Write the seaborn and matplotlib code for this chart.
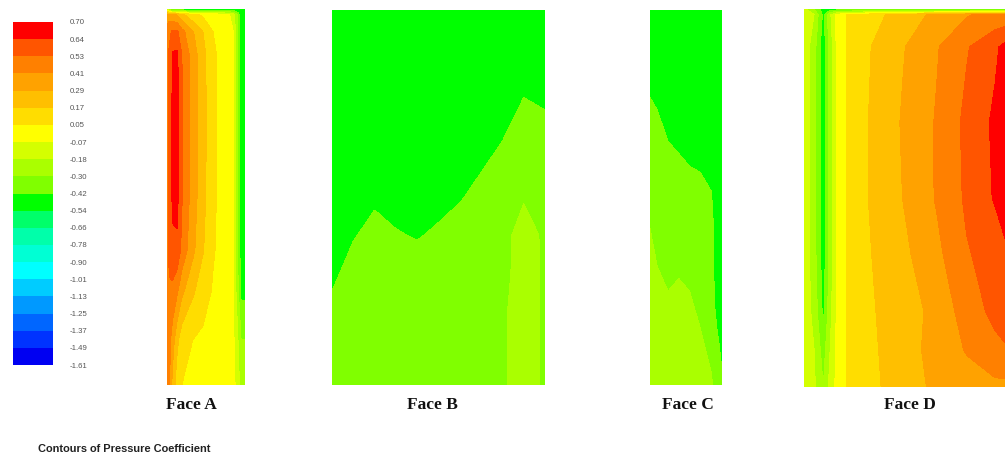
import numpy as np
import matplotlib
matplotlib.use("Agg")
import matplotlib.pyplot as plt
from matplotlib.colors import ListedColormap, BoundaryNorm, hsv_to_rgb
import seaborn as sns

# ---- contour levels of the pressure coefficient (20 bands) ----
levels = [-1.61, -1.49, -1.37, -1.25, -1.13, -1.01, -0.90, -0.78, -0.66, -0.54,
          -0.42, -0.30, -0.18, -0.07, 0.05, 0.17, 0.29, 0.41, 0.53, 0.64, 0.70]

# band hues, lowest band first (blue -> cyan -> green -> yellow -> red)
band_hues = [240, 228, 216, 204, 192, 180, 170, 160, 145, 120,
             90, 80, 70, 60, 52, 45, 38, 30, 20, 0]

# ---- sampled Cp on each face (rows: top -> bottom, cols: left -> right) ----
face_a_cols = [0, .03, .07, .13, .19, .33, .46, .59, .72, .85, .91, .95, 1.0]
face_a_rows = [0, .015, .06, .12, .30, .50, .64, .75, .88, 1.0]
face_a_cp = [
    [-0.20, -0.40, -0.55, -0.55, -0.55, -0.55, -0.55, -0.55, -0.55, -0.55, -0.55, -0.50, -0.45],
    [0.35, 0.35, 0.32, 0.28, 0.20, 0.08, 0.03, 0.00, -0.02, -0.10, -0.35, -0.50, -0.50],
    [0.45, 0.50, 0.55, 0.55, 0.45, 0.30, 0.17, 0.05, 0.00, -0.07, -0.35, -0.50, -0.50],
    [0.50, 0.55, 0.65, 0.66, 0.53, 0.35, 0.21, 0.07, 0.01, -0.06, -0.35, -0.50, -0.50],
    [0.50, 0.55, 0.66, 0.68, 0.55, 0.36, 0.22, 0.07, 0.01, -0.06, -0.35, -0.50, -0.50],
    [0.50, 0.55, 0.66, 0.67, 0.54, 0.35, 0.21, 0.07, 0.01, -0.06, -0.35, -0.50, -0.50],
    [0.50, 0.55, 0.62, 0.62, 0.50, 0.32, 0.18, 0.06, 0.01, -0.06, -0.33, -0.48, -0.48],
    [0.50, 0.52, 0.50, 0.43, 0.32, 0.19, 0.10, 0.04, 0.01, -0.05, -0.28, -0.45, -0.45],
    [0.48, 0.45, 0.35, 0.20, 0.10, 0.05, 0.03, 0.02, 0.01, -0.05, -0.18, -0.30, -0.30],
    [0.45, 0.42, 0.25, 0.10, 0.05, 0.03, 0.02, 0.02, 0.01, -0.04, -0.12, -0.25, -0.25],
]

face_b_cols = [0, .1, .2, .3, .4, .5, .6, .7, .8, .9, 1.0]
face_b_rows = [0, .1, .2, .3, .4, .5, .6, .7, .8, .9, 1.0]
face_b_cp = [
    [-0.50, -0.50, -0.50, -0.50, -0.50, -0.50, -0.50, -0.50, -0.50, -0.50, -0.50],
    [-0.50, -0.50, -0.50, -0.50, -0.50, -0.50, -0.50, -0.50, -0.50, -0.50, -0.50],
    [-0.50, -0.50, -0.50, -0.50, -0.50, -0.50, -0.50, -0.50, -0.50, -0.44, -0.46],
    [-0.50, -0.50, -0.50, -0.50, -0.50, -0.50, -0.50, -0.50, -0.45, -0.38, -0.40],
    [-0.50, -0.50, -0.50, -0.50, -0.50, -0.50, -0.48, -0.44, -0.39, -0.34, -0.34],
    [-0.50, -0.49, -0.44, -0.47, -0.48, -0.46, -0.43, -0.38, -0.34, -0.31, -0.34],
    [-0.50, -0.43, -0.38, -0.41, -0.43, -0.40, -0.36, -0.34, -0.34, -0.25, -0.32],
    [-0.45, -0.37, -0.34, -0.35, -0.36, -0.34, -0.34, -0.34, -0.34, -0.24, -0.32],
    [-0.39, -0.34, -0.34, -0.34, -0.34, -0.34, -0.34, -0.34, -0.32, -0.24, -0.32],
    [-0.34, -0.34, -0.34, -0.34, -0.34, -0.34, -0.34, -0.34, -0.32, -0.24, -0.32],
    [-0.34, -0.34, -0.34, -0.34, -0.34, -0.34, -0.34, -0.34, -0.32, -0.24, -0.32],
]

face_c_cols = [0, .1, .25, .4, .55, .7, .85, .93, 1.0]
face_c_rows = [0, .1, .2, .3, .4, .5, .6, .7, .8, .9, 1.0]
face_c_cp = [
    [-0.50, -0.50, -0.50, -0.50, -0.50, -0.50, -0.50, -0.50, -0.48],
    [-0.50, -0.50, -0.50, -0.50, -0.50, -0.50, -0.50, -0.50, -0.48],
    [-0.44, -0.46, -0.50, -0.50, -0.50, -0.50, -0.50, -0.50, -0.48],
    [-0.38, -0.40, -0.45, -0.47, -0.49, -0.50, -0.50, -0.50, -0.48],
    [-0.36, -0.36, -0.39, -0.41, -0.43, -0.44, -0.47, -0.50, -0.48],
    [-0.35, -0.36, -0.36, -0.36, -0.37, -0.38, -0.41, -0.50, -0.48],
    [-0.29, -0.35, -0.36, -0.36, -0.36, -0.36, -0.35, -0.50, -0.48],
    [-0.24, -0.29, -0.33, -0.31, -0.33, -0.36, -0.36, -0.50, -0.48],
    [-0.24, -0.24, -0.27, -0.25, -0.27, -0.33, -0.36, -0.45, -0.48],
    [-0.24, -0.24, -0.24, -0.24, -0.24, -0.27, -0.34, -0.39, -0.45],
    [-0.24, -0.24, -0.24, -0.24, -0.24, -0.24, -0.28, -0.36, -0.40],
]

face_d_cols = [0, .05, .096, .13, .16, .21, .32, .49, .66, .81, .95, 1.0]
face_d_rows = [0, .015, .10, .30, .50, .65, .80, .90, 1.0]
face_d_cp = [
    [-0.15, -0.30, -0.50, -0.50, -0.50, -0.50, -0.50, -0.50, -0.50, -0.50, -0.50, -0.50],
    [-0.10, -0.18, -0.45, -0.20, -0.05, 0.05, 0.12, 0.22, 0.32, 0.40, 0.45, 0.45],
    [-0.10, -0.25, -0.50, -0.25, -0.07, 0.05, 0.16, 0.28, 0.40, 0.52, 0.62, 0.67],
    [-0.10, -0.25, -0.50, -0.25, -0.07, 0.05, 0.17, 0.30, 0.42, 0.56, 0.66, 0.69],
    [-0.10, -0.25, -0.50, -0.25, -0.07, 0.05, 0.17, 0.29, 0.42, 0.55, 0.65, 0.69],
    [-0.10, -0.25, -0.49, -0.25, -0.07, 0.05, 0.16, 0.26, 0.38, 0.52, 0.58, 0.62],
    [-0.10, -0.22, -0.45, -0.22, -0.07, 0.05, 0.15, 0.24, 0.32, 0.47, 0.56, 0.58],
    [-0.10, -0.18, -0.36, -0.18, -0.06, 0.05, 0.14, 0.24, 0.33, 0.42, 0.50, 0.52],
    [-0.10, -0.16, -0.30, -0.14, -0.05, 0.05, 0.14, 0.22, 0.32, 0.36, 0.38, 0.38],
]

face_names = ["Face A", "Face B", "Face C", "Face D"]

# ---- styling ----
sns.set_theme(style="white")
plt.rcParams["font.family"] = ["Liberation Sans", "DejaVu Sans"]

W, H = 1005, 457
fig = plt.figure(figsize=(W / 100, H / 100), dpi=100)
fig.patch.set_facecolor("white")

band_colors = [hsv_to_rgb((h / 360.0, 1.0, 1.0 if h < 230 else 0.95)) for h in band_hues]
cmap = ListedColormap(band_colors)
norm = BoundaryNorm(levels, cmap.N)


def px_box(x0, y0, x1, y1):
    return [x0 / W, 1 - y1 / H, (x1 - x0) / W, (y1 - y0) / H]


# ---- colour key drawn as a one-column heatmap ----
cb_ax = fig.add_axes(px_box(13, 22, 53, 365))
band_index = np.arange(len(band_hues))[::-1].reshape(-1, 1)
sns.heatmap(band_index, cmap=cmap, vmin=-0.5, vmax=len(band_hues) - 0.5,
            cbar=False, ax=cb_ax, xticklabels=False, yticklabels=False)
cb_ax.set_yticks(np.arange(len(levels)))
cb_ax.set_yticklabels([f"{v:.2f}" for v in levels[::-1]], fontsize=5.6, color="#555555")
cb_ax.yaxis.tick_right()
cb_ax.tick_params(axis="y", length=0, pad=12, labelright=True, labelleft=False)
for s in cb_ax.spines.values():
    s.set_visible(False)

# ---- face contour panels ----
faces = [
    (face_a_cols, face_a_rows, face_a_cp, (167, 9, 245, 385), 191),
    (face_b_cols, face_b_rows, face_b_cp, (332, 10, 545, 385), 432),
    (face_c_cols, face_c_rows, face_c_cp, (650, 10, 722, 385), 688),
    (face_d_cols, face_d_rows, face_d_cp, (804, 9, 1005, 387), 910),
]

for name, (cols, rows, cp, box, label_x) in zip(face_names, faces):
    ax = fig.add_axes(px_box(*box))
    X, Y = np.meshgrid(cols, rows)
    ax.contourf(X, Y, np.array(cp), levels=levels, cmap=cmap, norm=norm)
    ax.set_xlim(0, 1)
    ax.set_ylim(1, 0)
    ax.axis("off")
    fig.text(label_x / W, 1 - 405 / H, name, ha="center", va="center",
             family=["Liberation Serif", "DejaVu Serif"], fontweight="bold",
             fontsize=12.5, color="#111111")

fig.text(38 / W, 1 - 449 / H, "Contours of Pressure Coefficient", ha="left", va="center",
         fontsize=7.9, fontweight="bold", color="#222222")

fig.savefig("out.png", dpi=100, facecolor="white")
